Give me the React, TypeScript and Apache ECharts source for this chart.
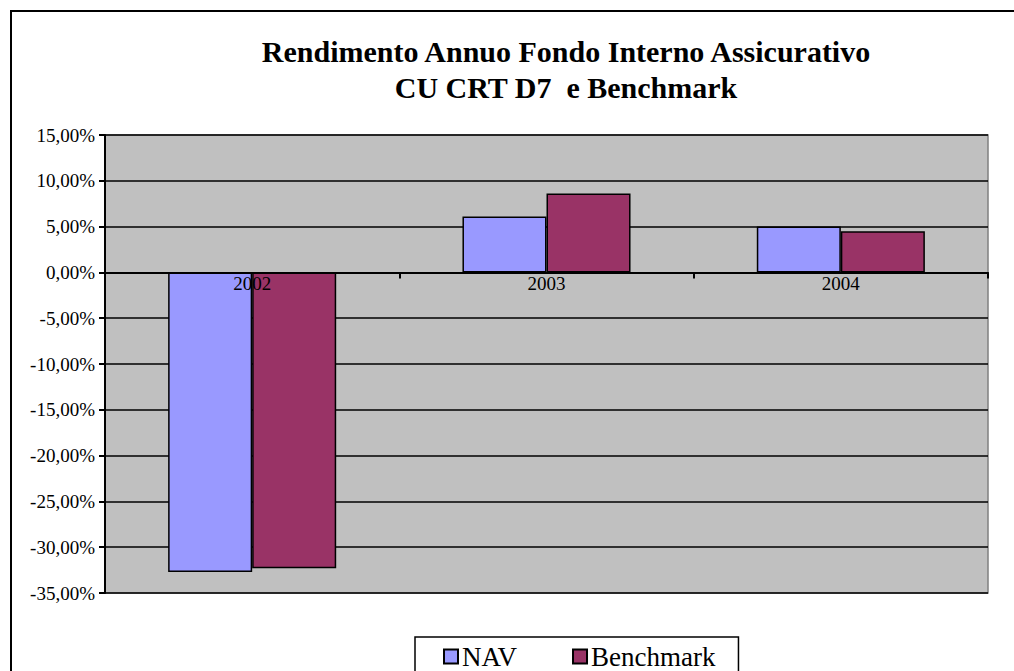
import React, { useEffect, useRef } from "react";
import * as echarts from "echarts";

const categories = ["2002", "2003", "2004"];
const navValues = [-32.7, 6.1, 5.0];
const benchmarkValues = [-32.3, 8.6, 4.5];
const seriesNames = ["NAV", "Benchmark"];
const titleLines = ["Rendimento Annuo Fondo Interno Assicurativo", "CU CRT D7  e Benchmark"];

const FONT = "Liberation Serif, Times New Roman, serif";

export default function App() {
  const ref = useRef<HTMLDivElement>(null);
  useEffect(() => {
    document.body.style.margin = "0";
    const chart = echarts.init(ref.current!, undefined, { renderer: "svg" });
    const fmt = (v: number) => v.toFixed(2).replace(".", ",") + "%";
    chart.setOption({
      animation: false,
      backgroundColor: "#ffffff",
      textStyle: { fontFamily: FONT },
      title: {
        text: titleLines.join("\n"),
        left: 561,
        top: 28,
        textAlign: "center",
        textStyle: { fontFamily: FONT, fontSize: 30, fontWeight: "bold", color: "#000", lineHeight: 36 },
      },
      graphic: [
        {
          type: "rect",
          shape: { x: 11, y: 11, width: 1100, height: 800 },
          style: { fill: "none", stroke: "#000", lineWidth: 2 },
          z: 100,
        },
      ],
      legend: {
        data: seriesNames,
        left: 415,
        top: 637,
        orient: "horizontal",
        backgroundColor: "#fff",
        borderColor: "#000",
        borderWidth: 1.5,
        padding: [6, 23, 30, 28],
        itemWidth: 14,
        itemHeight: 14,
        itemGap: 55,
        icon: "rect",
        textStyle: { fontFamily: FONT, fontSize: 27, color: "#000", padding: [0, 0, 0, -1] },
      },
      grid: {
        left: 105,
        right: 26,
        top: 135,
        bottom: 78,
        show: true,
        backgroundColor: "#c0c0c0",
        borderColor: "#808080",
        borderWidth: 1.5,
      },
      xAxis: {
        type: "category",
        data: categories,
        z: 10,
        axisLine: { onZero: true, lineStyle: { color: "#000", width: 2 } },
        axisTick: { show: true, alignWithLabel: false, length: 6, lineStyle: { color: "#000", width: 2 } },
        axisLabel: { fontFamily: FONT, fontSize: 19, color: "#000", margin: -319 },
        splitLine: { show: false },
      },
      yAxis: {
        type: "value",
        min: -35,
        max: 15,
        interval: 5,
        axisLine: { show: true, lineStyle: { color: "#000", width: 2 } },
        axisTick: { show: true, length: 6, lineStyle: { color: "#000", width: 2 } },
        axisLabel: { fontFamily: FONT, fontSize: 19, color: "#000", margin: 10, formatter: fmt },
        splitLine: { show: true, lineStyle: { color: "#000", width: 1.5 } },
      },
      series: [
        {
          name: seriesNames[0],
          type: "bar",
          data: navValues,
          barGap: "0%",
          barCategoryGap: "42.9%",
          itemStyle: { color: "#9999ff", borderColor: "#000", borderWidth: 1.5 },
          z: 3,
        },
        {
          name: seriesNames[1],
          type: "bar",
          data: benchmarkValues,
          barGap: "0%",
          barCategoryGap: "42.9%",
          itemStyle: { color: "#993366", borderColor: "#000", borderWidth: 1.5 },
          z: 3,
        },
      ],
    });
    return () => chart.dispose();
  }, []);
  return <div ref={ref} style={{ width: 1014, height: 671 }} />;
}
